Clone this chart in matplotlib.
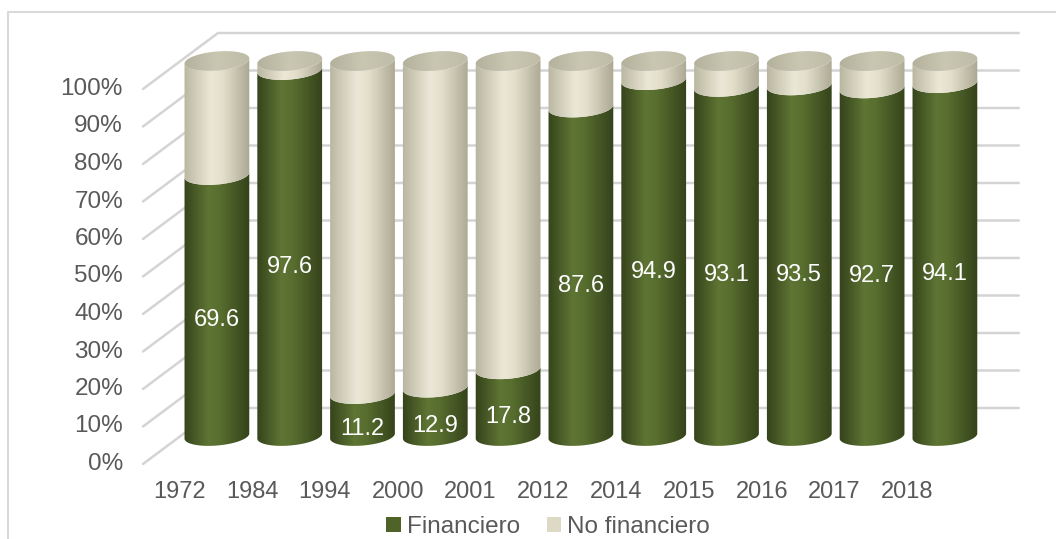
import numpy as np
import matplotlib.pyplot as plt
from matplotlib.colors import LinearSegmentedColormap
from matplotlib.patches import Polygon, Patch

plt.rcParams['font.family'] = ['Liberation Sans', 'DejaVu Sans']

# --- data: share of financial vs non-financial (%) ---
years = ['1972', '1984', '1994', '2000', '2001', '2012', '2014', '2015', '2016', '2017', '2018']
financiero = [69.6, 97.6, 11.2, 12.9, 17.8, 87.6, 94.9, 93.1, 93.5, 92.7, 94.1]
no_financiero = [100 - v for v in financiero]
yticks = list(range(0, 101, 10))

GREEN = '#4F6228'
TAN = '#DDD9C4'

# --- simple oblique projection used for the 3-D look (pixel space) ---
X0, Y0 = 143, 464          # front-left corner of the floor
DX, DY = 75, -56           # front -> back wall offset
PX_PER_PCT = 3.75
SLOT = 72.8                # width of one category along the floor
HALF_W, HALF_H = 32.5, 9.5 # cylinder radius and ellipse half height
TILT = np.deg2rad(5)


def proj(pos, pct, depth):
    x = X0 + pos * SLOT + depth * DX
    y = Y0 - pct * PX_PER_PCT + depth * DY
    return x, y


def ellipse_pts(cx, cy, t):
    ex = HALF_W * np.cos(t)
    ey = HALF_H * np.sin(t)
    x = cx + ex * np.cos(TILT) + ey * np.sin(TILT)
    y = cy - ex * np.sin(TILT) + ey * np.cos(TILT)
    return x, y


green_cm = LinearSegmentedColormap.from_list(
    'g', [(0, '#34421A'), (0.38, '#5E7534'), (0.55, '#586E2F'), (1, '#34421A')])
tan_cm = LinearSegmentedColormap.from_list(
    't', [(0, '#B8B59F'), (0.42, '#ECE8D7'), (0.6, '#E2DECA'), (1, '#ABA892')])
cap_cm = LinearSegmentedColormap.from_list(
    'c', [(0, '#B3B09C'), (0.5, '#C9C6B2'), (1, '#BEBBA7')])

fig = plt.figure(figsize=(10.56, 5.39), dpi=100)
ax = fig.add_axes([0, 0, 1, 1])
ax.set_xlim(0, 1056)
ax.set_ylim(539, 0)
ax.axis('off')

# chart area border
ax.plot([8, 8, 1056], [539, 12, 12], color='#D9D9D9', lw=1.5, zorder=0)

# gridlines: side wall diagonals and back wall
n = len(years)
for t in yticks:
    fx, fy = proj(0, t, 0)
    bx, by = proj(0, t, 1)
    ex, ey = proj(n, t, 1)
    ax.plot([fx, bx, ex], [fy, by, ey], color='#D4D4D4', lw=1.8,
            solid_capstyle='round', zorder=1)
    ax.text(fx - 20, fy, f'{t}%', ha='right', va='center',
            fontsize=17.5, color='#595959')

grad = np.linspace(0, 1, 256).reshape(1, -1)


def segment(cx, c_lo, c_hi, cmap, z):
    t = np.linspace(0, np.pi, 60)
    lx, ly = ellipse_pts(cx, c_lo, t)       # front arc at bottom
    hx, hy = ellipse_pts(cx, c_hi, t)       # front arc at top
    pts = np.vstack([np.column_stack([lx, ly]),
                     np.column_stack([hx[::-1], hy[::-1]])])
    poly = Polygon(pts, closed=True, facecolor='none', edgecolor='none')
    ax.add_patch(poly)
    im = ax.imshow(grad, cmap=cmap, aspect='auto', zorder=z,
                   extent=(cx - HALF_W - 1, cx + HALF_W + 1,
                           pts[:, 1].max() + 1, pts[:, 1].min() - 1))
    im.set_clip_path(poly)


for i, (yr, f, nf) in enumerate(zip(years, financiero, no_financiero)):
    cx, c0 = proj(i + 0.5, 0, 0.5)
    _, cf = proj(i + 0.5, f, 0.5)
    _, c100 = proj(i + 0.5, f + nf, 0.5)
    segment(cx, c0, cf, green_cm, 3)
    segment(cx, cf, c100, tan_cm, 4)
    # top cap
    t = np.linspace(0, 2 * np.pi, 120)
    tx, ty = ellipse_pts(cx, c100, t)
    cap = Polygon(np.column_stack([tx, ty]), closed=True,
                  facecolor='none', edgecolor='none')
    ax.add_patch(cap)
    im = ax.imshow(grad, cmap=cap_cm, aspect='auto', zorder=5,
                   extent=(cx - HALF_W - 1, cx + HALF_W + 1,
                           c100 + HALF_H + 4, c100 - HALF_H - 4))
    im.set_clip_path(cap)

    # value label on the green part
    lx, ly = proj(i + 0.5, f / 2, 0.25)
    ax.text(cx, ly, f'{f:.1f}', ha='center', va='center',
            fontsize=17, color='white', zorder=6)

    # category label on the front edge
    fx, fy = proj(i + 0.5, 0, 0)
    ax.text(fx, fy + 28, yr, ha='center', va='center',
            fontsize=17, color='#595959')

handles = [Patch(facecolor=GREEN, edgecolor='none', label='Financiero'),
           Patch(facecolor=TAN, edgecolor='none', label='No financiero')]
ax.legend(handles=handles, loc='center', bbox_to_anchor=(548 / 1056, 1 - 527 / 539),
          ncol=2, frameon=False, fontsize=17.5, labelcolor='#595959',
          handlelength=0.6, handleheight=0.6, handletextpad=0.25,
          columnspacing=1.1, borderpad=0)

fig.savefig('out.png', dpi=100)
